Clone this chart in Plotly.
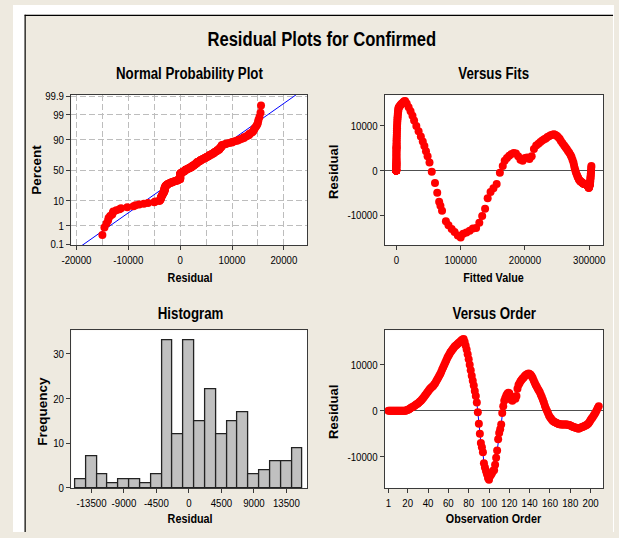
import plotly.graph_objects as go
from statistics import NormalDist

# ---------------- data ----------------
residuals = [
    0, 0, 0, 0, 0, 0, 0, 0, 0, 0, 0, 0, 0, 0, 0, 0, 0, 0,
    100, 200, 300, 450, 600, 750, 850, 1000, 1150, 1300, 1450, 1600,
    1800, 2000, 2200, 2450, 2700, 3000, 3300, 3600, 3900, 4200,
    4500, 4800, 5000, 5200, 5400, 5700, 6000, 6400, 6800, 7200,
    7600, 8000, 8500, 9000, 9500, 10000, 10500, 11000, 11500, 11900,
    12300, 12700, 13000, 13300, 13600, 13900, 14100, 14300, 14500, 14700,
    14900, 15100, 15300, 15500, 15600, 15000, 14200, 13300, 12300, 11200,
    10000, 8800, 7600, 6500, 5500, 4300, 3200, 1800, -300, -2800,
    -5000, -7000, -7900, -9000, -11400, -12300, -13100, -13800, -14600, -15000,
    -14200, -13900, -13500, -13000, -12900, -11700, -10200, -8600, -6200, -4800,
    -4000, -3000, -500, 1000, 2200, 2800, 3300, 3700, 3900, 3800,
    3200, 2400, 2200, 2800, 2900, 2600, 3200, 4800, 5600, 6000,
    6400, 6700, 7000, 7200, 7500, 7700, 7900, 8000, 8100, 8000,
    7800, 7500, 7100, 6600, 6100, 5600, 5200, 4800, 4400, 4000,
    3500, 3000, 2400, 1800, 1100, 500, 0, -500, -1000, -1400,
    -1700, -2000, -2200, -2400, -2500, -2600, -2700, -2800, -2900, -2900,
    -3000, -3000, -3000, -3000, -3000, -3000, -3000, -3100, -3100, -3200,
    -3300, -3400, -3500, -3600, -3700, -3700, -3800, -3900, -3800, -3700,
    -3600, -3500, -3400, -3300, -3200, -3100, -2900, -2700, -2400, -2000,
    -1700, -1400, -1000, -700, -300, 100, 600, 1000,
]

fitted = [
    -500, -500, -500, -500, -500, -500, -500, -500, -500, -500,
    -400, -400, -400, -400, -400, -300, -300, -300, -300, -300,
    -200, -200, -200, -200, -100, -100, -100, 0, 0, 0,
    0, 0, 0, 0, 0, 0, 0, 0, 0, 0,
    100, 100, 100, 200, 200, 200, 300, 300, 300, 400,
    500, 600, 700, 800, 900, 1000, 1200, 1400, 1600, 1800,
    2000, 2200, 2500, 2700, 3000, 3200, 3500, 4500, 5500, 6500,
    7500, 9000, 10500, 12000, 13500, 16000, 19000, 22000, 25000, 27500,
    31000, 34500, 38000, 41000, 43500, 46000, 48500, 51500, 55000, 60000,
    63500, 66500, 68500, 71000, 77000, 81000, 86000, 90500, 95500, 100000,
    104000, 109000, 114000, 119000, 124000, 129000, 133500, 138000, 142000, 146500,
    151000, 156000, 161000, 165500, 168500, 172000, 175500, 179000, 182500, 186000,
    189500, 193000, 196500, 200000, 203500, 207000, 210500, 214000, 217500, 221000,
    224000, 227000, 230000, 232500, 235000, 237500, 240000, 242500, 245000, 247000,
    249500, 251500, 254000, 256000, 258500, 261000, 263000, 265000, 267000, 269000,
    271000, 272500, 274000, 275500, 276500, 277500, 278500, 279500, 281000, 282000,
    283000, 284000, 285000, 286000, 287000, 288000, 289000, 289500, 290500, 291000,
    292000, 292500, 293000, 293500, 294000, 294500, 295000, 295500, 296000, 296500,
    297000, 297500, 298000, 298300, 298600, 299000, 299200, 299400, 299600, 299800,
    300000, 300200, 300400, 300600, 300800, 301000, 301200, 301400, 301600, 301800,
    302000, 302200, 302400, 302600, 302800, 303000, 303200, 303400,
]

observation = list(range(1, len(residuals) + 1))

hist_centers = [-15000, -13500, -12000, -10500, -9000, -7500, -6000, -4500,
                -3000, -1500, 0, 1500, 3000, 4500, 6000, 7500, 9000,
                10500, 12000, 13500, 15000]
hist_counts = [2, 7, 3, 1, 2, 2, 1, 3, 33, 12, 33, 15, 22, 12, 15, 17, 3,
               4, 6, 6, 9]
hist_width = 1500

npp_percents = [0.1, 1, 10, 50, 90, 99, 99.9]
npp_percent_text = ["0.1", "1", "10", "50", "90", "99", "99.9"]
npp_line_mean = 1700
npp_line_sd = 6550

npp_x_ticks = [-20000, -10000, 0, 10000, 20000]
npp_x_text = ["-20000", "-10000", "0", "10000", "20000"]
fits_x_ticks = [0, 100000, 200000, 300000]
fits_x_text = ["0", "100000", "200000", "300000"]
resid_ticks = [-10000, 0, 10000]
resid_text = ["-10000", "0", "10000"]
hist_x_ticks = [-13500, -9000, -4500, 0, 4500, 9000, 13500]
hist_x_text = ["-13500", "-9000", "-4500", "0", "4500", "9000", "13500"]
hist_y_ticks = [0, 10, 20, 30]
order_ticks = [1, 20, 40, 60, 80, 100, 120, 140, 160, 180, 200]
order_text = [str(v) for v in order_ticks]

# ---------------- normal probability values ----------------
nd = NormalDist()
n = len(residuals)
sorted_res = sorted(residuals)
npp_z = [nd.inv_cdf((i - 0.3) / (n + 0.4)) for i in range(1, n + 1)]
npp_tick_z = [nd.inv_cdf(p / 100.0) for p in npp_percents]
line_z = [-3.4, 3.4]
line_x = [npp_line_mean + npp_line_sd * z for z in line_z]

# ---------------- styling ----------------
W, H = 619, 538
FONT = "Liberation Sans, Arial, sans-serif"
RED = "#FF0000"
BLUE = "#0000FF"
BG = "#EEEAE0"
GRID = "#BDBDBD"
FRAME = "#3A3A3A"


def px(x):
    return x / W


def py(y):
    return 1 - y / H


fig = go.Figure()

fig.add_trace(go.Scatter(x=line_x, y=line_z, mode="lines",
                         line=dict(color=BLUE, width=1),
                         xaxis="x", yaxis="y", hoverinfo="skip"))
fig.add_trace(go.Scatter(x=sorted_res, y=npp_z, mode="markers",
                         marker=dict(color=RED, size=8),
                         xaxis="x", yaxis="y"))
fig.add_trace(go.Scatter(x=fitted, y=residuals, mode="markers",
                         marker=dict(color=RED, size=8),
                         xaxis="x2", yaxis="y2"))
fig.add_trace(go.Bar(x=hist_centers, y=hist_counts, width=hist_width,
                     marker=dict(color="#C0C0C0",
                                 line=dict(color="#222222", width=1.3)),
                     xaxis="x3", yaxis="y3"))
fig.add_trace(go.Scatter(x=observation, y=residuals, mode="lines+markers",
                         line=dict(color=BLUE, width=1),
                         marker=dict(color=RED, size=8),
                         xaxis="x4", yaxis="y4"))

tickfont = dict(family=FONT, size=11.5, color="#000000")
common = dict(showline=True, mirror=True, linecolor=FRAME, linewidth=1,
              ticks="outside", ticklen=4, tickcolor=FRAME, tickwidth=1,
              tickfont=tickfont, tickmode="array", tickangle=0,
              fixedrange=True)

left_dom = [px(60), px(303)]
right_dom = [px(383), px(608)]
top_dom = [py(245), py(92)]
bot_dom = [py(493), py(332)]

fig.update_layout(
    width=W, height=H,
    margin=dict(l=0, r=0, t=0, b=0),
    paper_bgcolor=BG, plot_bgcolor="#FFFFFF",
    showlegend=False, hovermode=False,
    bargap=0,
    xaxis=dict(domain=left_dom, anchor="y", range=[-21000, 24500],
               tickvals=npp_x_ticks, ticktext=npp_x_text,
               showgrid=True, gridcolor=GRID, gridwidth=1, griddash="6px,3px",
               minor=dict(dtick=5000, tick0=0, showgrid=True, gridcolor=GRID,
                          griddash="6px,3px", ticks=""),
               zeroline=False, **common),
    yaxis=dict(domain=top_dom, anchor="x", range=[-3.13, 3.14],
               tickvals=npp_tick_z, ticktext=npp_percent_text,
               showgrid=True, gridcolor=GRID, gridwidth=1, griddash="6px,3px",
               zeroline=False, **common),
    xaxis2=dict(domain=right_dom, anchor="y2", range=[-18000, 322000],
                tickvals=fits_x_ticks, ticktext=fits_x_text,
                showgrid=False, zeroline=False, **common),
    yaxis2=dict(domain=top_dom, anchor="x2", range=[-16700, 16900],
                tickvals=resid_ticks, ticktext=resid_text,
                showgrid=False, zeroline=True, zerolinecolor="#505050",
                zerolinewidth=1, **common),
    xaxis3=dict(domain=left_dom, anchor="y3", range=[-16300, 16380],
                tickvals=hist_x_ticks, ticktext=hist_x_text,
                showgrid=False, zeroline=False, **common),
    yaxis3=dict(domain=bot_dom, anchor="x3", range=[0, 35.3],
                tickvals=hist_y_ticks, ticktext=[str(v) for v in hist_y_ticks],
                showgrid=False, zeroline=False, **common),
    xaxis4=dict(domain=right_dom, anchor="y4", range=[-2.5, 212.5],
                tickvals=order_ticks, ticktext=order_text,
                showgrid=False, zeroline=False, **common),
    yaxis4=dict(domain=bot_dom, anchor="x4", range=[-16750, 17500],
                tickvals=resid_ticks, ticktext=resid_text,
                showgrid=False, zeroline=True, zerolinecolor="#505050",
                zerolinewidth=1, **common),
)

shapes = [
    dict(type="rect", xref="paper", yref="paper", x0=0, x1=px(12), y0=0, y1=1,
         fillcolor="#FFFFFF", line=dict(width=0), layer="below"),
    dict(type="rect", xref="paper", yref="paper", x0=0, x1=1, y0=py(10), y1=1,
         fillcolor="#FFFFFF", line=dict(width=0), layer="below"),
    dict(type="rect", xref="paper", yref="paper", x0=px(618), x1=1, y0=0, y1=1,
         fillcolor="#FFFFFF", line=dict(width=0), layer="below"),
    dict(type="line", xref="paper", yref="paper", x0=px(12), x1=px(618),
         y0=py(10.5), y1=py(10.5), line=dict(color="#000000", width=1.2)),
    dict(type="line", xref="paper", yref="paper", x0=px(12.5), x1=px(12.5),
         y0=0, y1=py(10), line=dict(color="#000000", width=1.2)),
]
fig.update_layout(shapes=shapes)


def label(text, x, y, size, angle=0):
    fig.add_annotation(text="<b>" + text + "</b>", x=px(x), y=py(y),
                       xref="paper", yref="paper", showarrow=False,
                       xanchor="center", yanchor="middle", textangle=angle,
                       font=dict(family=FONT, size=size, color="#000000"))


# horizontal (condensed) labels first, vertical labels last
label("Residual Plots for Confirmed", 318, 35, 20)
label("Normal Probability Plot", 182, 70, 16)
label("Versus Fits", 495, 70, 16)
label("Histogram", 183, 315, 16)
label("Versus Order", 496, 315, 16)
label("Residual", 182, 278, 13)
label("Fitted Value", 495, 278, 13)
label("Residual", 182, 524, 13)
label("Observation Order", 495, 524, 13)
N_CONDENSED = 9
label("Percent", 24, 168, 13.5, -90)
label("Residual", 330, 170, 13, -90)
label("Frequency", 30, 415, 13.5, -90)
label("Residual", 330, 415, 13, -90)

# pin the graph to the window corner and render the condensed lettering
# (the original uses a narrow typeface) by compressing the text glyphs.
post = (
    "document.documentElement.style.margin='0';"
    "document.body.style.margin='0';"
    "document.body.style.overflow='hidden';"
    "var gd=document.getElementById('{plot_id}');"
    "gd.style.position='fixed';gd.style.left='0px';gd.style.top='0px';"
    "function sq(t,f){var L=t.getComputedTextLength();"
    "if(L>0){t.setAttribute('lengthAdjust','spacingAndGlyphs');"
    "t.setAttribute('textLength',(L*f).toFixed(2));}}"
    "gd.querySelectorAll('.xaxislayer-above text, .yaxislayer-above text')"
    ".forEach(function(t){sq(t,0.84);});"
    "gd.querySelectorAll('.annotation').forEach(function(a){"
    "var i=parseInt(a.getAttribute('data-index'));"
    "if(i<" + str(N_CONDENSED) + "){a.querySelectorAll('.annotation-text').forEach(function(t){sq(t,0.83);});}});"
)

fig.write_html(
    "out.html",
    config={"displayModeBar": False, "responsive": False},
    post_script=post,
)
